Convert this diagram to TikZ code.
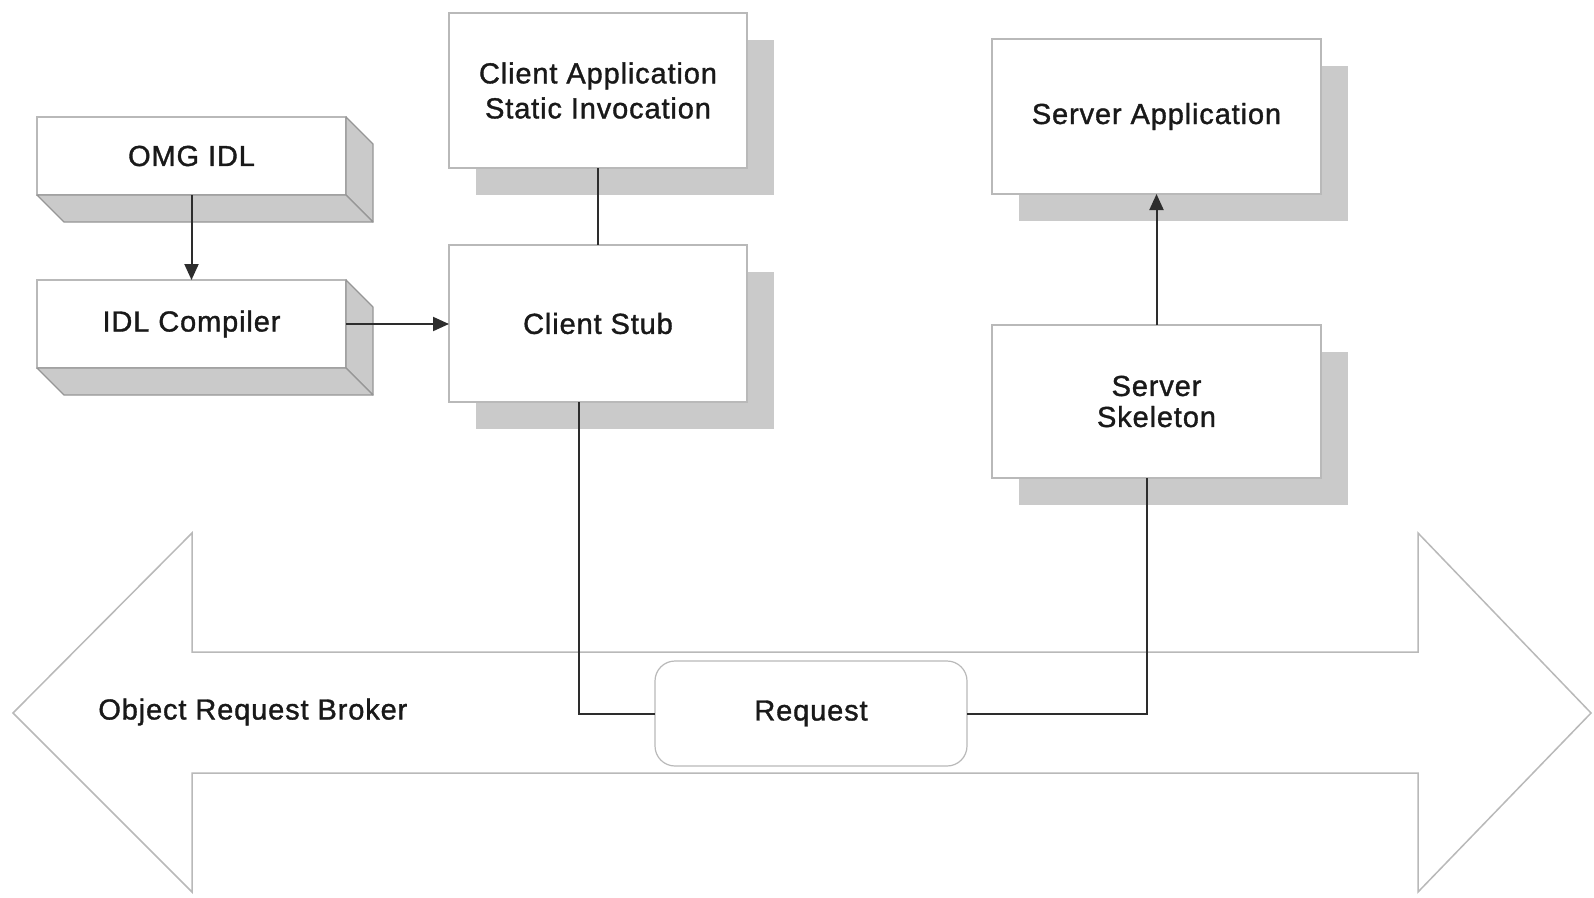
\documentclass[tikz,border=0pt]{standalone}
\usepackage{fontspec}
\setmainfont{Liberation Sans}[LetterSpace=3, FakeBold=1.2]
\usetikzlibrary{arrows.meta,shadows}

\definecolor{edgegray}{RGB}{185,185,185}
\definecolor{shadegray}{RGB}{202,202,202}
\definecolor{facegray}{RGB}{150,150,150}
\definecolor{ink}{RGB}{25,25,25}
\definecolor{wire}{RGB}{45,45,45}

\begin{document}
\begin{tikzpicture}[x=1pt,y=-1pt,
  every node/.style={outer sep=0pt, text=ink, font=\fontsize{29}{35}\selectfont},
  panel/.style={draw=edgegray, line width=1.2pt, fill=white, inner sep=0pt, align=center},
  raised/.style={drop shadow={shadow xshift=27pt, shadow yshift=-27pt, fill=shadegray, opacity=1}},
  face/.style={fill=shadegray, draw=facegray, line width=1.2pt, line join=round},
  link/.style={draw=wire, line width=2pt},
  tip/.style={-{Triangle[length=16pt,width=14pt]}},
]
\useasboundingbox (0,0) rectangle (1594,897);

% the broker: a wide double-headed arrow
\draw[draw=edgegray, line width=1.5pt, fill=white, line join=miter]
  (13,713) -- (192,533) -- (192,652) -- (1418,652) -- (1418,533) -- (1591,713)
  -- (1418,892) -- (1418,773) -- (192,773) -- (192,892) -- cycle;
\node[anchor=west] (orb) at (95,712) {Object Request Broker};

% IDL side: extruded blocks
\node[panel, minimum width=309pt, minimum height=78pt] (omg) at (191.5,156) {OMG IDL};
\node[panel, minimum width=309pt, minimum height=88pt] (idlc) at (191.5,324) {IDL Compiler};
\foreach \b in {omg,idlc} {
  \filldraw[face] (\b.north east) -- ++(27,27) -- ([shift={(27,27)}]\b.south east)
    -- (\b.south east) -- cycle;
  \filldraw[face] (\b.south west) -- (\b.south east) -- ++(27,27)
    -- ([shift={(27,27)}]\b.south west) -- cycle;
}

% client and server blocks with offset shadows
\node[panel, raised, minimum width=298pt, minimum height=155pt] (capp) at (598,90.5)
  {Client Application\\Static Invocation};
\node[panel, raised, minimum width=298pt, minimum height=157pt] (stub) at (598,323.5)
  {Client Stub};
\node[panel, raised, minimum width=329pt, minimum height=155pt] (sapp) at (1156.5,116.5)
  {Server Application};
\node[panel, raised, minimum width=329pt, minimum height=153pt,
  font=\fontsize{29}{31}\selectfont] (skel) at (1156.5,401.5)
  {Server\\Skeleton};

% the request travelling through the broker
\node[panel, rounded corners=20pt, minimum width=312pt, minimum height=105pt] (req)
  at (811,713.5) {Request};

% connectors
\draw[link, tip] (omg.south) -- (idlc.north);
\draw[link, tip] (idlc.east) -- (stub.west |- idlc.east);
\draw[link] (capp.south) -- (stub.north);
\draw[link, tip] (skel.north) -- (sapp.south);
\draw[link] ([xshift=-19pt]stub.south) |- (req.west);
\draw[link] ([xshift=-9.5pt]skel.south) |- (req.east);
\end{tikzpicture}
\end{document}
